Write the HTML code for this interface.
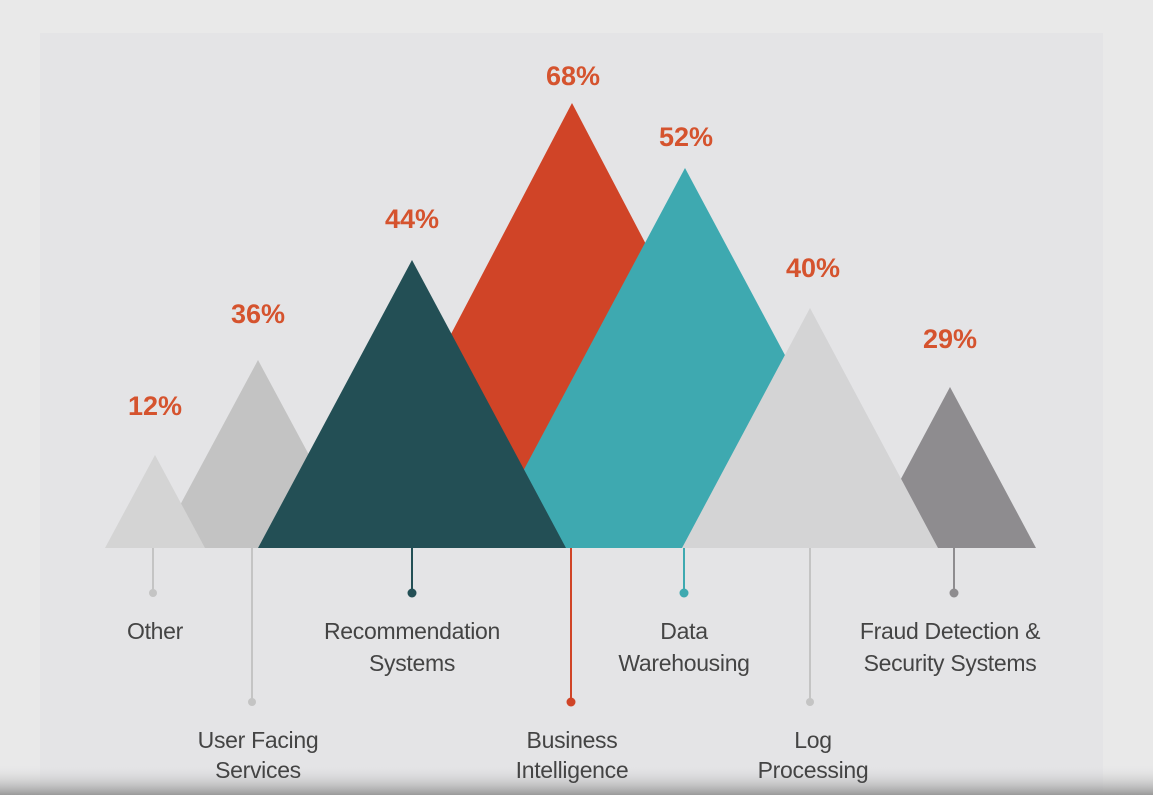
<!DOCTYPE html>
<html><head><meta charset="utf-8"><style>
html,body{margin:0;padding:0;}
body{width:1153px;height:795px;background:#e9e9e9;position:relative;overflow:hidden;font-family:"Liberation Sans",sans-serif;}
svg{position:absolute;left:0;top:0;}
</style></head><body>
<svg width="1153" height="795" viewBox="0 0 1153 795">
<defs><linearGradient id="fade" x1="0" y1="0" x2="0" y2="1">
<stop offset="0" stop-color="#e4e4e6" stop-opacity="0"/><stop offset="1" stop-color="#9a9a9a"/></linearGradient></defs>
<rect x="40" y="33" width="1063" height="762" fill="#e4e4e6"/>
<rect x="0" y="765" width="1153" height="30" fill="url(#fade)"/>
<polygon points="157,548 258,360 359,548" fill="#c3c3c3"/>
<polygon points="105,548 155,455 205,548" fill="#d4d4d4"/>
<polygon points="339,548 572,103 805,548" fill="#d04427"/>
<polygon points="482,548 685,168 888,548" fill="#3ea9b0"/>
<polygon points="864,548 950,387 1036,548" fill="#8e8c8f"/>
<polygon points="682,548 810,308 938,548" fill="#d4d4d5"/>
<polygon points="258,548 412,260 566,548" fill="#234f55"/>
<g stroke-width="2">
<line x1="153" y1="548" x2="153" y2="593" stroke="#c4c4c4"/><circle cx="153" cy="593" r="4" fill="#c4c4c4"/>
<line x1="252" y1="548" x2="252" y2="702" stroke="#c4c4c4"/><circle cx="252" cy="702" r="4" fill="#c4c4c4"/>
<line x1="412" y1="548" x2="412" y2="593" stroke="#234f55"/><circle cx="412" cy="593" r="4.5" fill="#234f55"/>
<line x1="571" y1="548" x2="571" y2="702" stroke="#d04427"/><circle cx="571" cy="702" r="4.5" fill="#d04427"/>
<line x1="684" y1="548" x2="684" y2="593" stroke="#3ea9b0"/><circle cx="684" cy="593" r="4.5" fill="#3ea9b0"/>
<line x1="810" y1="548" x2="810" y2="702" stroke="#c4c4c4"/><circle cx="810" cy="702" r="4" fill="#c4c4c4"/>
<line x1="954" y1="548" x2="954" y2="593" stroke="#8e8c8f"/><circle cx="954" cy="593" r="4.5" fill="#8e8c8f"/>
</g>
<g font-weight="bold" font-size="27" fill="#d5532e" text-anchor="middle">
<text x="155" y="415">12%</text><text x="258" y="323">36%</text><text x="412" y="228">44%</text>
<text x="573" y="85">68%</text><text x="686" y="146">52%</text><text x="813" y="277">40%</text><text x="950" y="348">29%</text>
</g>
<g font-size="23" fill="#444" text-anchor="middle" letter-spacing="-0.3">
<text x="155" y="639">Other</text>
<text x="412" y="639">Recommendation</text><text x="412" y="671">Systems</text>
<text x="684" y="639">Data</text><text x="684" y="671">Warehousing</text>
<text x="950" y="639">Fraud Detection &amp;</text><text x="950" y="671">Security Systems</text>
<text x="258" y="748">User Facing</text><text x="258" y="778">Services</text>
<text x="572" y="748">Business</text><text x="572" y="778">Intelligence</text>
<text x="813" y="748">Log</text><text x="813" y="778">Processing</text>
</g>
</svg>
</body></html>
